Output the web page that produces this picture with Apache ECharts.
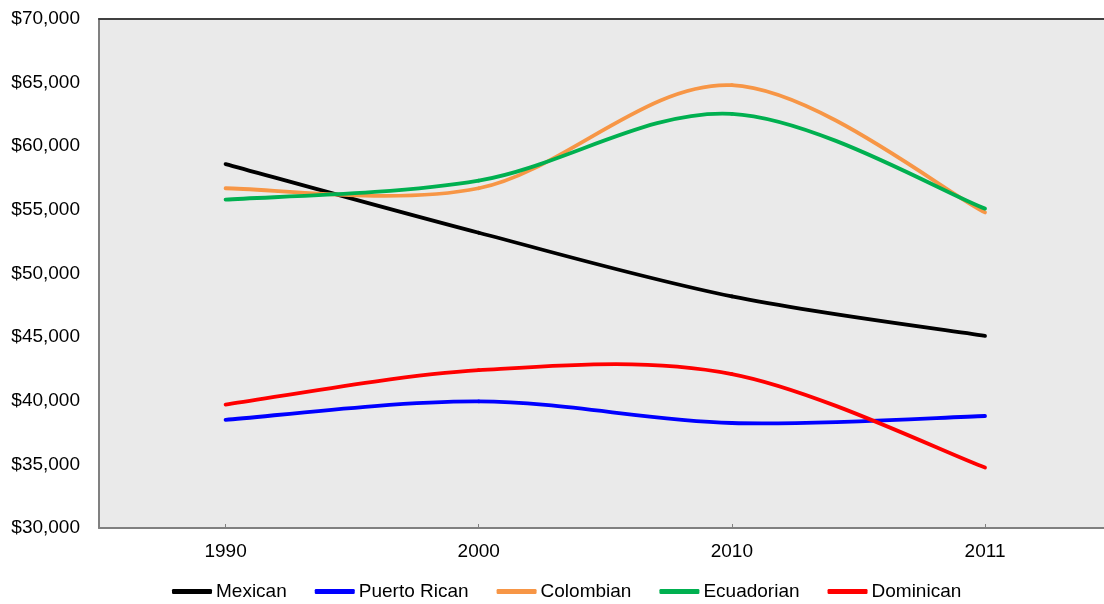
<!DOCTYPE html>
<html>
<head>
<meta charset="utf-8">
<script src="https://cdn.jsdelivr.net/npm/echarts@6/dist/echarts.min.js"></script>
<style>
  html, body { margin: 0; padding: 0; background: #fff; }
  #chart { width: 1104px; height: 604px; }
</style>
</head>
<body>
<div id="chart"></div>
<script>
// Median household income by origin group
const years = ['1990', '2000', '2010', '2011'];
const mexican = [58600, 53200, 48200, 45100];
const puertoRican = [38500, 39950, 38250, 38800];
const colombian = [56700, 56700, 64800, 54800];
const ecuadorian = [55800, 57300, 62550, 55100];
const dominican = [39700, 42400, 42100, 34750];

const seriesNames = ['Mexican', 'Puerto Rican', 'Colombian', 'Ecuadorian', 'Dominican'];
const seriesColors = ['#000000', '#0000ff', '#f79646', '#00b050', '#ff0000'];
const seriesData = [mexican, puertoRican, colombian, ecuadorian, dominican];

const fontFamily = 'Liberation Sans, Arial, sans-serif';
const yearSlots = years.map((_, k) => k);

// Draws one smoothed (Catmull-Rom style) segment from point i to point i+1,
// with all positions mapped through the chart's axes.
function smoothSegment(values, color) {
  return function (params, api) {
    const i = params.dataIndex;
    const n = values.length;
    if (i >= n - 1) return null;
    const pt = k => {
      const j = Math.max(0, Math.min(n - 1, k));
      return api.coord([j, values[j]]);
    };
    const p0 = pt(i - 1), p1 = pt(i), p2 = pt(i + 1), p3 = pt(i + 2);
    const c1 = [p1[0] + (p2[0] - p0[0]) / 6, p1[1] + (p2[1] - p0[1]) / 6];
    const c2 = [p2[0] - (p3[0] - p1[0]) / 6, p2[1] - (p3[1] - p1[1]) / 6];
    return {
      type: 'bezierCurve',
      shape: { x1: p1[0], y1: p1[1], x2: p2[0], y2: p2[1],
               cpx1: c1[0], cpy1: c1[1], cpx2: c2[0], cpy2: c2[1] },
      style: { stroke: color, lineWidth: 3.8, fill: null, lineCap: 'round' },
      silent: true
    };
  };
}

const chart = echarts.init(document.getElementById('chart'), null, { renderer: 'canvas' });

chart.setOption({
  animation: false,
  backgroundColor: '#ffffff',
  grid: {
    left: 99, right: 0, top: 19, bottom: 76,
    show: true, backgroundColor: '#eaeaea', borderWidth: 0
  },
  legend: {
    top: 577,
    left: 167,
    itemWidth: 40,
    itemHeight: 5,
    itemGap: 28,
    icon: 'roundRect',
    textStyle: { fontFamily, fontSize: 19, color: '#000', padding: [0, 0, 0, -1] },
    data: seriesNames
  },
  xAxis: [{
    // year slots; the last band runs past the right edge of the chart
    type: 'value',
    min: -0.5,
    max: 3.47,
    axisLine: { onZero: false, lineStyle: { color: '#808080', width: 2 } },
    axisTick: { show: true, inside: true, length: 4, customValues: yearSlots,
                lineStyle: { color: '#808080' } },
    axisLabel: { fontFamily, fontSize: 19, color: '#000', margin: 14,
                 customValues: yearSlots, formatter: v => years[v] },
    splitLine: { show: false }
  }, {
    // top frame line
    type: 'value',
    position: 'top',
    min: -0.5,
    max: 3.47,
    axisLine: { show: true, onZero: false, lineStyle: { color: '#404040', width: 2 } },
    axisTick: { show: false },
    axisLabel: { show: false },
    splitLine: { show: false }
  }],
  yAxis: {
    type: 'value',
    min: 30000,
    max: 70000,
    interval: 5000,
    axisLine: { show: true, onZero: false, lineStyle: { color: '#808080', width: 2 } },
    axisTick: { show: false },
    splitLine: { show: false },
    axisLabel: {
      fontFamily, fontSize: 19, color: '#000', margin: 19,
      formatter: v => '$' + v.toLocaleString('en-US')
    }
  },
  series: seriesNames.map((name, i) => ({
    name,
    type: 'custom',
    coordinateSystem: 'cartesian2d',
    xAxisIndex: 0,
    data: seriesData[i].map((v, k) => [k, v]),
    encode: { x: 0, y: 1 },
    renderItem: smoothSegment(seriesData[i], seriesColors[i]),
    itemStyle: { color: seriesColors[i] },
    clip: false
  }))
});
</script>
</body>
</html>
